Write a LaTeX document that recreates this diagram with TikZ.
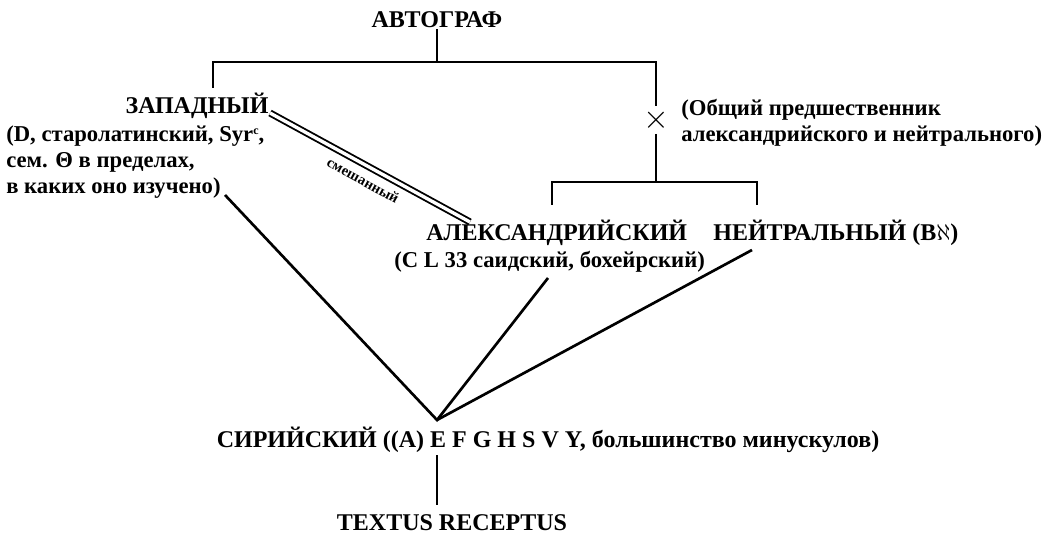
\documentclass[tikz,border=0pt]{standalone}
\usepackage{fontspec}
\setmainfont{Liberation Serif}
\begin{document}
\begin{tikzpicture}[x=0.75pt,y=-0.75pt,line width=2pt,
  big/.style={font=\bfseries\fontsize{18}{20}\selectfont,inner sep=0pt},
  sm/.style={font=\bfseries\fontsize{17}{19.5}\selectfont,inner sep=0pt}]
\useasboundingbox (0,0) rectangle (1059,538);
\node[big] (avt) at (437,20) {АВТОГРАФ};
\node[big] (zap) at (197,106) {ЗАПАДНЫЙ};
\node[sm,anchor=north west,align=left] (zapt) at (5,124) {(D, старолатинский, Syr{\fontsize{9}{9}\selectfont\raisebox{5pt}{c}},\\сем. Θ в пределах,\\в каких оно изучено)};
\node[big,anchor=west] (alx) at (425,233) {АЛЕКСАНДРИЙСКИЙ};
\node[big,anchor=west] (neu) at (712,233) {НЕЙТРАЛЬНЫЙ (B$\aleph$)};
\node[sm,anchor=west] (alxt) at (393,262) {(C L 33 саидский, бохейрский)};
\node[sm,anchor=north west,align=left] (obsh) at (680,98) {(Общий предшественник\\александрийского и нейтрального)};
\node[big] (sir) at (548,440) {СИРИЙСКИЙ ((A) E F G H S V Y, большинство минускулов)};
\node[big] (tr) at (452,523) {TEXTUS RECEPTUS};
\node[font=\fontsize{26}{26}\selectfont,inner sep=0pt] (x) at (656,120) {$\times$};
\coordinate (top) at (437,62);
\coordinate (mid) at (656,182);
\coordinate (conv) at (437,420);
\draw (avt.south) -- (top);
\draw (213,88) -- (213,62) -- (656,62) -- (656,106);
\draw (656,134) -- (mid);
\draw (552,205) -- (552,182) -- (757,182) -- (757,205);
\draw[line width=1.4pt,double,double distance=2.5pt] (270,113) -- (470,222) node[midway,sloped,below=3pt,font=\bfseries\fontsize{11}{11}\selectfont] {смешанный};
\draw (225,195) -- (conv) -- (548,278);
\draw (conv) -- (752,250);
\draw (437,455) -- (437,505);
\end{tikzpicture}
\end{document}
